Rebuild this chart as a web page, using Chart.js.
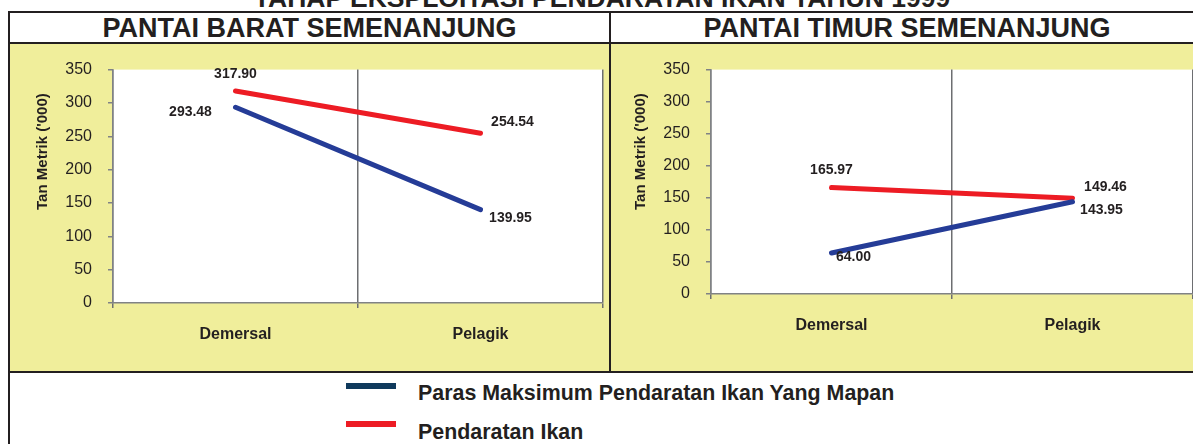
<!DOCTYPE html>
<html lang="ms">
<head>
<meta charset="utf-8">
<title>Tahap Eksploitasi Pendaratan Ikan</title>
<script src="https://cdn.jsdelivr.net/npm/chart.js@4.4.1/dist/chart.umd.min.js"></script>
<style>
  body {
    margin: 0;
    width: 1193px;
    height: 444px;
    overflow: hidden;
    background: #fff;
    position: relative;
    font-family: "Liberation Sans", Arial, sans-serif;
    color: #231f20;
  }
  .garis { position: absolute; background: #231f20; }
  .kuning { position: absolute; background: #f0ee9b; }
  canvas { position: absolute; }
  #judul {
    position: absolute; left: 0; width: 1204px; top: -15.5px;
    text-align: center; font-weight: bold; font-size: 26.5px; line-height: 26px; white-space: nowrap;
  }
  .tajuk {
    position: absolute; top: 14.5px;
    text-align: center; font-weight: bold; font-size: 27px; line-height: 27px; white-space: nowrap;
  }
  .legenda-warna { position: absolute; left: 346px; width: 50px; height: 6px; }
  .legenda-teks {
    position: absolute; left: 418px;
    font-weight: bold; font-size: 21.4px; line-height: 21px; white-space: nowrap;
  }
</style>
</head>
<body>

<div id="judul">TAHAP EKSPLOITASI PENDARATAN IKAN TAHUN 1999</div>

<!-- bingkai jadual -->
<div class="garis" style="left:8px; top:11px; width:1185px; height:2px;"></div>
<div class="garis" style="left:8px; top:11px; width:2px; height:433px;"></div>
<div class="garis" style="left:8px; top:42px; width:1185px; height:2px;"></div>
<div class="garis" style="left:609px; top:11px; width:2px; height:362px;"></div>
<div class="garis" style="left:8px; top:371px; width:1185px; height:2px;"></div>

<div class="tajuk" style="left:10px; width:599px;">PANTAI BARAT SEMENANJUNG</div>
<div class="tajuk" style="left:611px; width:592px;">PANTAI TIMUR SEMENANJUNG</div>

<div class="kuning" style="left:10px; top:44px; width:599px; height:327px;"></div>
<div class="kuning" style="left:611px; top:44px; width:582px; height:327px;"></div>

<canvas id="cartaBarat" width="599" height="327" style="left:10px; top:44px;"></canvas>
<canvas id="cartaTimur" width="582" height="327" style="left:611px; top:44px;"></canvas>

<!-- petunjuk -->
<div class="legenda-warna" style="top:383px; background:#0f3a5c;"></div>
<div class="legenda-teks" style="top:382.5px;">Paras Maksimum Pendaratan Ikan Yang Mapan</div>
<div class="legenda-warna" style="top:421px; background:#ed1c24;"></div>
<div class="legenda-teks" style="top:422px;">Pendaratan Ikan</div>

<script>
// ===== data (ribu tan metrik) =====
const kategori = ["Demersal", "Pelagik"];
const nilaiPaksiY = [0, 50, 100, 150, 200, 250, 300, 350];

const baratMSY = [293.48, 139.95];
const baratPendaratan = [317.90, 254.54];

const timurMSY = [64.00, 143.95];
const timurPendaratan = [165.97, 149.46];

// kedudukan label nilai berbanding titik [dx, dy]
const ofsetBarat = [[[-45, 5], [30, 8]], [[0, -17], [32, -11]]];
const ofsetTimur = [[[22, 4], [29, 8]], [[0, -17], [33, -11]]];

const FONT = "'Liberation Sans', Arial, sans-serif";
const warnaTeks = "#231f20";
const biru = "#253c97";
const merah = "#ed1c24";
const kelabu = "#808285";

// latar putih untuk kawasan plot
const plotPutih = {
  id: "plotPutih",
  beforeDraw(chart) {
    const { ctx, chartArea: a } = chart;
    ctx.save();
    ctx.fillStyle = "#ffffff";
    ctx.fillRect(a.left, a.top, a.right - a.left, a.bottom - a.top);
    ctx.restore();
  }
};

// label nilai pada hujung garis + tajuk paksi Y
const labelNilai = {
  id: "labelNilai",
  afterDatasetsDraw(chart, args, opts) {
    const ctx = chart.ctx;
    ctx.save();
    ctx.font = "bold 14px " + FONT;
    ctx.fillStyle = warnaTeks;
    ctx.textAlign = "center";
    ctx.textBaseline = "middle";
    chart.data.datasets.forEach((ds, i) => {
      chart.getDatasetMeta(i).data.forEach((pt, j) => {
        const [dx, dy] = opts.ofset[i][j];
        ctx.fillText(ds.data[j].toFixed(2), pt.x + dx, pt.y + dy);
      });
    });

    const a = chart.chartArea;
    ctx.translate(a.left - 70, a.top + 82);
    ctx.rotate(-Math.PI / 2);
    ctx.font = "bold 15px " + FONT;
    ctx.fillText("Tan Metrik ('000)", 0, 0);
    ctx.restore();
  }
};

function buatCarta(id, msy, pendaratan, ofset, lebarPaksiY, tinggiPaksiX, padKanan) {
  return new Chart(document.getElementById(id), {
    type: "line",
    data: {
      labels: kategori,
      datasets: [
        {
          label: "Paras Maksimum Pendaratan Ikan Yang Mapan",
          data: msy,
          borderColor: biru,
          borderWidth: 5,
          borderCapStyle: "round",
          pointRadius: 0,
          tension: 0,
        },
        {
          label: "Pendaratan Ikan",
          data: pendaratan,
          borderColor: merah,
          borderWidth: 5,
          borderCapStyle: "round",
          pointRadius: 0,
          tension: 0,
        },
      ],
    },
    options: {
      responsive: false,
      animation: false,
      layout: { padding: { top: 25, right: padKanan, left: 0, bottom: 0 } },
      plugins: {
        legend: { display: false },
        tooltip: { enabled: false },
        labelNilai: { ofset: ofset },
      },
      scales: {
        x: {
          offset: true,
          grid: { offset: true, color: "#6d6e71", lineWidth: 1.5, tickLength: 5 },
          border: { color: kelabu, width: 1.5 },
          ticks: {
            color: warnaTeks,
            font: { family: FONT, size: 16, weight: "bold" },
            padding: 17,
            maxRotation: 0,
          },
          afterFit(scale) { scale.height = tinggiPaksiX; },
        },
        y: {
          min: nilaiPaksiY[0],
          max: nilaiPaksiY[nilaiPaksiY.length - 1],
          afterBuildTicks(scale) { scale.ticks = nilaiPaksiY.map(v => ({ value: v })); },
          ticks: { color: warnaTeks, font: { family: FONT, size: 16 }, padding: 16 },
          grid: { drawOnChartArea: false, color: kelabu, lineWidth: 1.5, tickLength: 5 },
          border: { color: kelabu, width: 1.5 },
          afterFit(scale) { scale.width = lebarPaksiY; },
        },
      },
    },
    plugins: [plotPutih, labelNilai],
  });
}

buatCarta("cartaBarat", baratMSY, baratPendaratan, ofsetBarat, 103, 68, 6);
buatCarta("cartaTimur", timurMSY, timurPendaratan, ofsetTimur, 100, 77, 0);
</script>
</body>
</html>
